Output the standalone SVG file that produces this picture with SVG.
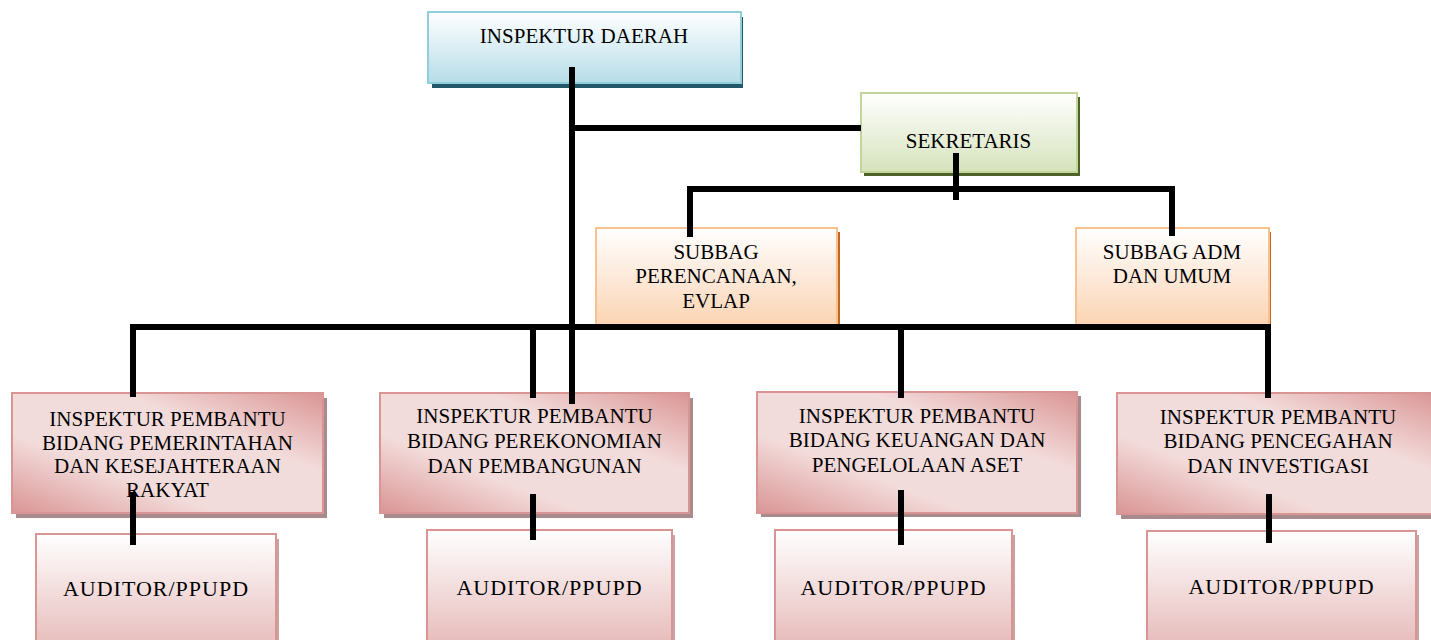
<svg xmlns="http://www.w3.org/2000/svg" width="1431" height="640" viewBox="0 0 1431 640">
<defs>
<linearGradient id="gBlue" x1="0" y1="0" x2="0" y2="1"><stop offset="0" stop-color="#ffffff"/><stop offset="1" stop-color="#b6dde8"/></linearGradient>
<linearGradient id="gGreen" x1="0" y1="0" x2="0" y2="1"><stop offset="0" stop-color="#ffffff"/><stop offset="1" stop-color="#d6e3bc"/></linearGradient>
<linearGradient id="gOrange" x1="0" y1="0" x2="0" y2="1"><stop offset="0" stop-color="#ffffff"/><stop offset="1" stop-color="#fbd4b4"/></linearGradient>
<linearGradient id="gPink" x1="0" y1="0" x2="0" y2="1"><stop offset="0" stop-color="#ffffff"/><stop offset="1" stop-color="#e5b8b7"/></linearGradient>
<linearGradient id="gDiag" x1="0" y1="1" x2="1" y2="0"><stop offset="0" stop-color="#d99594"/><stop offset="0.33" stop-color="#f2dcdb"/><stop offset="0.67" stop-color="#f2dcdb"/><stop offset="1" stop-color="#d99594"/></linearGradient>
</defs>
<style>
text{font-family:"Liberation Serif","Times New Roman",serif;font-size:21px;fill:#000;text-anchor:middle}
.aud{font-size:22px;letter-spacing:1px}
.blue{fill:url(#gBlue);stroke:#92cddc;stroke-width:2}
.green{fill:url(#gGreen);stroke:#c2d69b;stroke-width:2}
.orange{fill:url(#gOrange);stroke:#fac08f;stroke-width:2}
.ip{fill:url(#gDiag);stroke:#d99594;stroke-width:2}
.aubox{fill:url(#gPink);stroke:#d99594;stroke-width:2}
.conn{fill:none;stroke:#000;stroke-width:6;stroke-linejoin:miter;stroke-linecap:butt}
</style>
<rect width="1431" height="640" fill="#fff"/>

<g id="inspektur-daerah">
<rect x="432" y="17" width="311" height="71" fill="#215968"/>
<rect x="428" y="12" width="313" height="71" class="blue"/>
<text x="584" y="43">INSPEKTUR DAERAH</text>
</g>

<g id="sekretaris">
<rect x="864" y="97" width="216" height="79" fill="#4f6228"/>
<rect x="861" y="93" width="216" height="79" class="green"/>
<text x="968.5" y="148">SEKRETARIS</text>
</g>

<g id="subbag-perencanaan">
<rect x="598" y="232" width="242" height="95" fill="#c0681f"/>
<rect x="596" y="228" width="241" height="97" class="orange"/>
<text x="716" y="259">SUBBAG</text>
<text x="716" y="283">PERENCANAAN,</text>
<text x="716" y="308">EVLAP</text>
</g>

<g id="subbag-adm">
<rect x="1078" y="232" width="193" height="95" fill="#c0681f"/>
<rect x="1076" y="228" width="193" height="97" class="orange"/>
<text x="1172" y="259">SUBBAG ADM</text>
<text x="1172" y="283">DAN UMUM</text>
</g>

<g id="ip-pemerintahan">
<rect x="16" y="398" width="311" height="120" fill="#a88b8c"/>
<rect x="12" y="393" width="311" height="120" class="ip"/>
<text x="167.5" y="426">INSPEKTUR PEMBANTU</text>
<text x="167.5" y="449.5">BIDANG PEMERINTAHAN</text>
<text x="167.5" y="473">DAN KESEJAHTERAAN</text>
<text x="167.5" y="496.5">RAKYAT</text>
</g>

<g id="ip-perekonomian">
<rect x="384" y="398" width="309" height="120" fill="#a88b8c"/>
<rect x="380" y="393" width="309" height="120" class="ip"/>
<text x="534.5" y="423">INSPEKTUR PEMBANTU</text>
<text x="534.5" y="448">BIDANG PEREKONOMIAN</text>
<text x="534.5" y="473">DAN PEMBANGUNAN</text>
</g>

<g id="ip-keuangan">
<rect x="761" y="396" width="320" height="121" fill="#a88b8c"/>
<rect x="757" y="392" width="320" height="121" class="ip"/>
<text x="917" y="423">INSPEKTUR PEMBANTU</text>
<text x="917" y="447">BIDANG KEUANGAN DAN</text>
<text x="917" y="472">PENGELOLAAN ASET</text>
</g>

<g id="ip-pencegahan">
<rect x="1121" y="398" width="322" height="121" fill="#a88b8c"/>
<rect x="1117" y="393" width="322" height="121" class="ip"/>
<text x="1278" y="424">INSPEKTUR PEMBANTU</text>
<text x="1278" y="448">BIDANG PENCEGAHAN</text>
<text x="1278" y="473">DAN INVESTIGASI</text>
</g>

<g id="auditor-1">
<rect x="39" y="539" width="240" height="120" fill="#c9a3a3"/>
<rect x="36" y="534" width="240" height="120" class="aubox"/>
<text class="aud" x="156" y="596">AUDITOR/PPUPD</text>
</g>

<g id="auditor-2">
<rect x="430" y="535" width="245" height="120" fill="#c9a3a3"/>
<rect x="427" y="530" width="245" height="120" class="aubox"/>
<text class="aud" x="549.5" y="595">AUDITOR/PPUPD</text>
</g>

<g id="auditor-3">
<rect x="778" y="535" width="237" height="120" fill="#c9a3a3"/>
<rect x="775" y="530" width="237" height="120" class="aubox"/>
<text class="aud" x="893.5" y="595">AUDITOR/PPUPD</text>
</g>

<g id="auditor-4">
<rect x="1150" y="535" width="269" height="120" fill="#c9a3a3"/>
<rect x="1147" y="531" width="269" height="120" class="aubox"/>
<text class="aud" x="1281.5" y="594">AUDITOR/PPUPD</text>
</g>

<g id="connectors">
<line class="conn" x1="572" y1="67" x2="572" y2="404"/>
<line class="conn" x1="572" y1="128" x2="861" y2="128"/>
<line class="conn" x1="956" y1="153" x2="956" y2="200"/>
<polyline class="conn" points="690,237 690,189 1172,189 1172,236"/>
<polyline class="conn" points="133,397 133,327 1268,327 1268,398"/>
<line class="conn" x1="533" y1="327" x2="533" y2="398"/>
<line class="conn" x1="901" y1="327" x2="901" y2="398"/>
<line class="conn" x1="133" y1="492" x2="133" y2="545"/>
<line class="conn" x1="533" y1="494" x2="533" y2="540"/>
<line class="conn" x1="901" y1="490" x2="901" y2="545"/>
<line class="conn" x1="1269" y1="494" x2="1269" y2="543"/>
</g>
</svg>
